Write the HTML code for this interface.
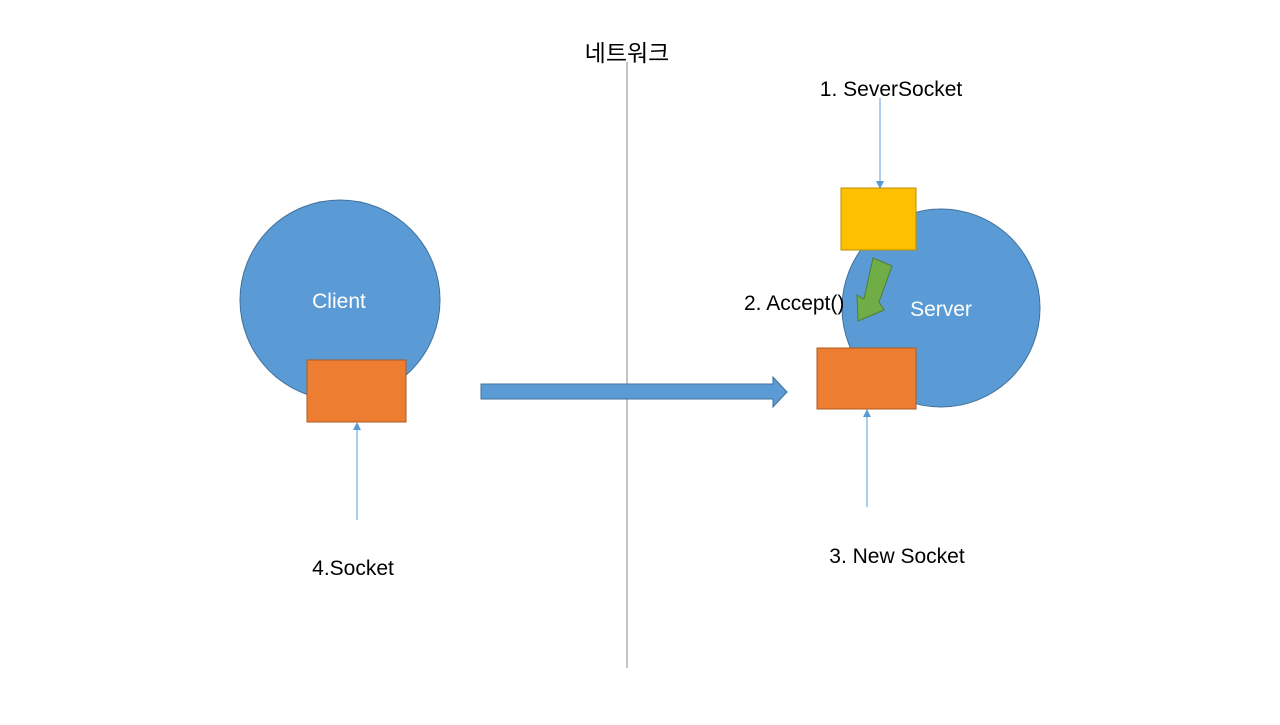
<!DOCTYPE html>
<html><head><meta charset="utf-8"><style>
body{margin:0;background:#fff;width:1280px;height:720px;overflow:hidden}
svg text{font-family:"Liberation Sans","Noto Sans CJK KR",sans-serif}
</style></head><body>
<svg width="1280" height="720" xmlns="http://www.w3.org/2000/svg">
<line x1="627" y1="62" x2="627" y2="668" stroke="#888" stroke-width="1"/>
<text x="627" y="61" font-size="23" text-anchor="middle" fill="#000">네트워크</text>
<circle cx="340" cy="300" r="100" fill="#5b9bd5" stroke="#41719c"/>
<text x="339" y="308" font-size="21" text-anchor="middle" fill="#fff">Client</text>
<rect x="307" y="360" width="99" height="62" fill="#ed7d31" stroke="#ae5a21"/>
<line x1="357" y1="520" x2="357" y2="428" stroke="#5b9bd5" stroke-width="1"/>
<polygon points="353,430 357,422 361,430" fill="#5b9bd5"/>
<text x="353" y="575" font-size="21" text-anchor="middle" fill="#000">4.Socket</text>
<polygon points="481,384 773,384 773,377 787,392 773,407 773,399 481,399" fill="#5b9bd5" stroke="#41719c"/>
<circle cx="941" cy="308" r="99" fill="#5b9bd5" stroke="#41719c"/>
<text x="941" y="316" font-size="21" text-anchor="middle" fill="#fff">Server</text>
<rect x="841" y="188" width="75" height="62" fill="#ffc000" stroke="#bc8c00"/>
<line x1="880" y1="98" x2="880" y2="182" stroke="#5b9bd5"/>
<polygon points="876,181 880,189 884,181" fill="#5b9bd5"/>
<text x="891" y="96" font-size="21" text-anchor="middle" fill="#000">1. SeverSocket</text>
<polygon points="873,258 892,266 879,302 884,310 858,321 857,295 864,299" fill="#70ad47" stroke="#507e32"/>
<text x="744" y="310" font-size="21" fill="#000">2. Accept()</text>
<rect x="817" y="348" width="99" height="61" fill="#ed7d31" stroke="#ae5a21"/>
<line x1="867" y1="507" x2="867" y2="415" stroke="#5b9bd5"/>
<polygon points="863,417 867,409 871,417" fill="#5b9bd5"/>
<text x="897" y="563" font-size="21" text-anchor="middle" fill="#000">3. New Socket</text>
</svg>
</body></html>
